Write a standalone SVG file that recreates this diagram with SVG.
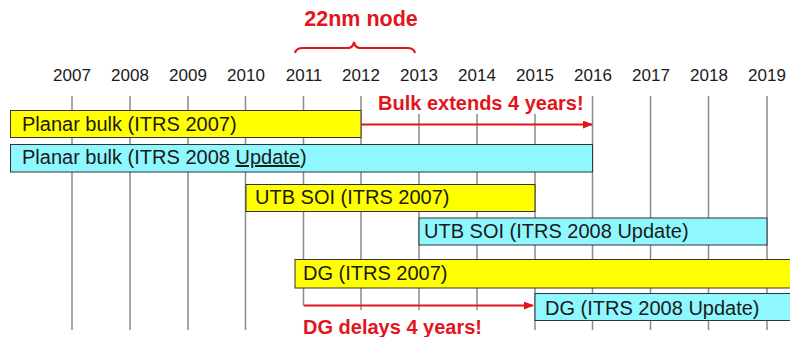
<svg xmlns="http://www.w3.org/2000/svg" width="790" height="337" viewBox="0 0 790 337">
<defs>
<style>
.yr{font-family:"Liberation Sans",Arial,sans-serif;font-size:17px;fill:#1a1a1a;text-anchor:middle}
.grid{stroke:#8a8a8a;stroke-width:1.5}
.bar text{font-family:"Liberation Sans",Arial,sans-serif;font-size:20px;fill:#1a1a1a}
.y{fill:#ffff00;stroke:#333;stroke-width:1}
.c{fill:#8ff8ff;stroke:#333;stroke-width:1}
.red{font-family:"Liberation Sans",Arial,sans-serif;font-weight:bold;fill:#e3141c}
.arr{stroke:#e3141c;stroke-width:2;fill:none}
</style>
<marker id="ah" markerWidth="10" markerHeight="8" refX="9" refY="4" orient="auto" markerUnits="userSpaceOnUse">
<path d="M0,0 L10,4 L0,8 Z" fill="#e3141c"/>
</marker>
</defs>
<rect width="790" height="337" fill="#fff"/>
<text class="red" x="361" y="26" font-size="21.5" text-anchor="middle">22nm node</text>
<path d="M295,53 Q296,48 303,48 L348,48 Q353,48 354,42 Q355,48 360,48 L407,48 Q414,48 415,53" fill="none" stroke="#e3141c" stroke-width="2.2"/>
<g id="years">
<text class="yr" x="72" y="81">2007</text>
<text class="yr" x="130" y="81">2008</text>
<text class="yr" x="188" y="81">2009</text>
<text class="yr" x="246" y="81">2010</text>
<text class="yr" x="304" y="81">2011</text>
<text class="yr" x="361" y="81">2012</text>
<text class="yr" x="419" y="81">2013</text>
<text class="yr" x="477" y="81">2014</text>
<text class="yr" x="535" y="81">2015</text>
<text class="yr" x="593" y="81">2016</text>
<text class="yr" x="651" y="81">2017</text>
<text class="yr" x="709" y="81">2018</text>
<text class="yr" x="767" y="81">2019</text>
</g>
<g id="gridlines">
<line class="grid" x1="72" y1="96" x2="72" y2="330"/>
<line class="grid" x1="130" y1="96" x2="130" y2="330"/>
<line class="grid" x1="188" y1="96" x2="188" y2="330"/>
<line class="grid" x1="245.5" y1="96" x2="245.5" y2="330"/>
<line class="grid" x1="303.5" y1="96" x2="303.5" y2="305"/>
<line class="grid" x1="361" y1="96" x2="361" y2="310"/>
<line class="grid" x1="419" y1="114" x2="419" y2="310"/>
<line class="grid" x1="477" y1="114" x2="477" y2="310"/>
<line class="grid" x1="535" y1="114" x2="535" y2="330"/>
<line class="grid" x1="592.5" y1="96" x2="592.5" y2="330"/>
<line class="grid" x1="650.5" y1="96" x2="650.5" y2="330"/>
<line class="grid" x1="708.5" y1="96" x2="708.5" y2="330"/>
<line class="grid" x1="767" y1="96" x2="767" y2="330"/>
</g>
<g id="planar-2007" class="bar">
<rect class="y" x="10.5" y="110.5" width="350.5" height="27"/>
<text x="22" y="131">Planar bulk (ITRS 2007)</text>
</g>
<g id="planar-2008" class="bar">
<rect class="c" x="10.5" y="144.5" width="582" height="27.5"/>
<text x="22" y="164">Planar bulk (ITRS 2008 <tspan text-decoration="underline">Update</tspan>)</text>
</g>
<g id="utb-2007" class="bar">
<rect class="y" x="246" y="184.5" width="289" height="27"/>
<text x="255" y="204">UTB SOI (ITRS 2007)</text>
</g>
<g id="utb-2008" class="bar">
<rect class="c" x="419" y="218" width="348" height="27"/>
<text x="424" y="238">UTB SOI (ITRS 2008 Update)</text>
</g>
<g id="dg-2007" class="bar">
<rect class="y" x="295" y="259.5" width="500" height="28.5"/>
<text x="303" y="280">DG (ITRS 2007)</text>
</g>
<g id="dg-2008" class="bar">
<rect class="c" x="535" y="293.5" width="260" height="27"/>
<text x="545" y="315">DG (ITRS 2008 Update)</text>
</g>
<g id="connectors">
<line class="arr" x1="361" y1="124.5" x2="592" y2="124.5" marker-end="url(#ah)"/>
<line class="arr" x1="303.5" y1="305.5" x2="533" y2="305.5" marker-end="url(#ah)"/>
</g>
<text class="red" x="378" y="110" font-size="20">Bulk extends 4 years!</text>
<text class="red" x="303" y="334" font-size="20">DG delays 4 years!</text>
</svg>
